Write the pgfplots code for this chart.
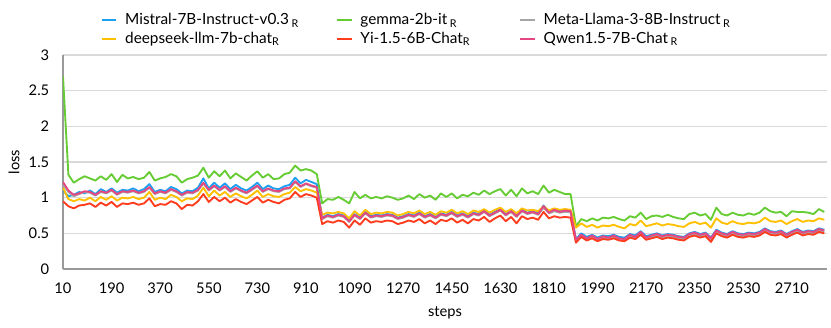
\documentclass[border=0pt]{standalone}
\usepackage{fontspec}
\setmainfont{Lato}
\usepackage{pgfplots}
\usepackage{pgfplotstable}
\pgfplotsset{compat=1.18}

\definecolor{cMis}{RGB}{30,160,240}
\definecolor{cGem}{RGB}{102,204,51}
\definecolor{cLla}{RGB}{165,165,165}
\definecolor{cDee}{RGB}{255,192,0}
\definecolor{cYi}{RGB}{255,60,30}
\definecolor{cQwe}{RGB}{230,70,130}

% loss per step (every 20 steps)
\pgfplotstableread{
step mis gem lla dee yi qwe
10 1.10 2.70 1.18 1.14 0.95 1.22
30 1.02 1.32 1.08 0.98 0.88 1.10
50 1.04 1.21 1.02 0.95 0.85 1.04
70 1.08 1.26 1.05 0.98 0.89 1.06
90 1.06 1.30 1.08 0.96 0.90 1.09
110 1.10 1.27 1.07 1.00 0.92 1.08
130 1.05 1.24 1.03 0.95 0.87 1.04
150 1.12 1.30 1.08 1.01 0.93 1.09
170 1.08 1.25 1.06 0.97 0.89 1.07
190 1.13 1.33 1.10 1.02 0.94 1.11
210 1.07 1.22 1.04 0.96 0.87 1.05
230 1.11 1.32 1.08 1.00 0.92 1.09
250 1.10 1.27 1.07 0.99 0.91 1.08
270 1.13 1.29 1.09 1.01 0.93 1.10
290 1.09 1.26 1.06 0.98 0.90 1.07
310 1.12 1.28 1.08 1.00 0.92 1.09
330 1.19 1.36 1.14 1.08 0.99 1.15
350 1.08 1.24 1.05 0.97 0.88 1.06
370 1.11 1.27 1.08 1.00 0.91 1.09
390 1.09 1.29 1.06 0.98 0.90 1.07
410 1.15 1.33 1.11 1.04 0.95 1.12
430 1.12 1.30 1.08 1.01 0.92 1.09
450 1.06 1.21 1.03 0.95 0.84 1.04
470 1.10 1.26 1.07 0.99 0.90 1.08
490 1.09 1.28 1.06 0.98 0.89 1.07
510 1.14 1.31 1.10 1.03 0.95 1.11
530 1.27 1.42 1.20 1.14 1.05 1.21
550 1.13 1.28 1.10 1.02 0.94 1.11
570 1.21 1.37 1.16 1.10 1.01 1.17
590 1.14 1.30 1.10 1.03 0.95 1.11
610 1.20 1.38 1.15 1.08 1.00 1.16
630 1.12 1.27 1.08 1.01 0.93 1.09
650 1.18 1.34 1.13 1.06 0.98 1.14
670 1.13 1.29 1.09 1.02 0.94 1.10
690 1.10 1.24 1.06 0.99 0.91 1.07
710 1.15 1.31 1.11 1.04 0.96 1.12
730 1.21 1.37 1.16 1.10 1.01 1.17
750 1.12 1.28 1.08 1.01 0.93 1.09
770 1.17 1.33 1.12 1.05 0.97 1.13
790 1.13 1.26 1.09 1.02 0.94 1.10
810 1.12 1.27 1.08 1.01 0.92 1.09
830 1.16 1.33 1.12 1.05 0.97 1.13
850 1.18 1.35 1.13 1.07 0.99 1.14
870 1.28 1.45 1.22 1.15 1.08 1.23
890 1.20 1.38 1.15 1.09 1.01 1.16
910 1.25 1.40 1.19 1.12 1.05 1.20
930 1.22 1.38 1.16 1.10 1.03 1.17
950 1.19 1.33 1.14 1.07 1.00 1.15
970 0.72 0.92 0.70 0.76 0.63 0.71
990 0.76 0.98 0.74 0.79 0.67 0.75
1010 0.74 0.97 0.72 0.78 0.65 0.73
1030 0.77 1.01 0.75 0.80 0.68 0.76
1050 0.75 0.97 0.73 0.78 0.66 0.74
1070 0.68 0.92 0.66 0.71 0.58 0.67
1090 0.77 1.08 0.75 0.81 0.68 0.76
1110 0.72 0.99 0.70 0.75 0.62 0.71
1130 0.80 1.04 0.78 0.83 0.71 0.79
1150 0.74 0.99 0.72 0.77 0.65 0.73
1170 0.76 1.01 0.74 0.79 0.67 0.75
1190 0.75 0.99 0.73 0.78 0.66 0.74
1210 0.77 1.02 0.75 0.80 0.68 0.76
1230 0.76 1.00 0.74 0.79 0.67 0.75
1250 0.72 0.97 0.70 0.75 0.63 0.71
1270 0.74 0.99 0.72 0.77 0.65 0.73
1290 0.77 1.03 0.75 0.80 0.68 0.76
1310 0.75 0.98 0.73 0.78 0.66 0.74
1330 0.79 1.05 0.77 0.82 0.70 0.78
1350 0.74 1.00 0.72 0.77 0.64 0.73
1370 0.77 1.03 0.75 0.80 0.68 0.76
1390 0.73 0.97 0.71 0.76 0.63 0.72
1410 0.78 1.06 0.76 0.81 0.69 0.77
1430 0.76 1.01 0.74 0.79 0.67 0.75
1450 0.80 1.06 0.78 0.83 0.71 0.79
1470 0.75 0.99 0.73 0.78 0.65 0.74
1490 0.78 1.04 0.76 0.81 0.69 0.77
1510 0.74 1.02 0.72 0.77 0.64 0.73
1530 0.79 1.07 0.77 0.82 0.70 0.78
1550 0.77 1.04 0.75 0.80 0.68 0.76
1570 0.82 1.10 0.80 0.84 0.73 0.81
1590 0.76 1.05 0.74 0.79 0.66 0.75
1610 0.80 1.09 0.78 0.83 0.71 0.79
1630 0.84 1.12 0.82 0.86 0.75 0.83
1650 0.77 1.03 0.75 0.80 0.67 0.76
1670 0.82 1.11 0.80 0.84 0.73 0.81
1690 0.75 1.02 0.73 0.78 0.64 0.74
1710 0.83 1.13 0.81 0.85 0.74 0.82
1730 0.79 1.06 0.77 0.82 0.70 0.78
1750 0.81 1.09 0.79 0.83 0.72 0.80
1770 0.78 1.05 0.76 0.81 0.69 0.77
1790 0.89 1.17 0.86 0.88 0.80 0.88
1810 0.80 1.07 0.78 0.82 0.71 0.79
1830 0.84 1.11 0.81 0.85 0.74 0.83
1850 0.81 1.08 0.79 0.83 0.72 0.80
1870 0.83 1.05 0.80 0.84 0.73 0.82
1890 0.82 1.05 0.80 0.83 0.72 0.81
1910 0.42 0.60 0.40 0.58 0.37 0.41
1930 0.50 0.70 0.47 0.64 0.45 0.48
1950 0.45 0.67 0.42 0.59 0.40 0.43
1970 0.48 0.71 0.45 0.62 0.43 0.47
1990 0.44 0.68 0.41 0.58 0.39 0.42
2010 0.47 0.72 0.44 0.61 0.42 0.46
2030 0.46 0.71 0.43 0.60 0.41 0.44
2050 0.48 0.73 0.45 0.62 0.43 0.47
2070 0.45 0.70 0.42 0.59 0.40 0.43
2090 0.44 0.68 0.41 0.57 0.39 0.42
2110 0.49 0.74 0.46 0.63 0.44 0.48
2130 0.47 0.72 0.44 0.61 0.42 0.45
2150 0.53 0.79 0.50 0.68 0.48 0.52
2170 0.46 0.70 0.43 0.60 0.41 0.44
2190 0.48 0.74 0.45 0.62 0.43 0.47
2210 0.50 0.75 0.47 0.64 0.45 0.49
2230 0.47 0.73 0.44 0.61 0.42 0.46
2250 0.49 0.76 0.46 0.63 0.44 0.48
2270 0.48 0.73 0.45 0.62 0.43 0.47
2290 0.46 0.71 0.43 0.60 0.41 0.45
2310 0.45 0.70 0.42 0.59 0.40 0.44
2330 0.50 0.77 0.47 0.64 0.45 0.49
2350 0.52 0.79 0.49 0.66 0.47 0.51
2370 0.49 0.75 0.46 0.63 0.44 0.48
2390 0.51 0.77 0.48 0.65 0.46 0.50
2410 0.44 0.69 0.41 0.58 0.38 0.43
2430 0.55 0.86 0.52 0.71 0.50 0.54
2450 0.51 0.77 0.48 0.65 0.46 0.50
2470 0.49 0.75 0.46 0.63 0.44 0.48
2490 0.53 0.79 0.50 0.67 0.48 0.52
2510 0.50 0.76 0.47 0.64 0.45 0.49
2530 0.49 0.75 0.46 0.63 0.44 0.48
2550 0.51 0.78 0.48 0.65 0.46 0.50
2570 0.50 0.76 0.47 0.64 0.45 0.49
2590 0.52 0.79 0.49 0.66 0.47 0.51
2610 0.57 0.86 0.54 0.72 0.52 0.56
2630 0.53 0.81 0.50 0.67 0.48 0.52
2650 0.52 0.79 0.49 0.66 0.47 0.51
2670 0.54 0.80 0.51 0.68 0.49 0.53
2690 0.49 0.74 0.46 0.63 0.44 0.48
2710 0.53 0.81 0.50 0.67 0.48 0.52
2730 0.56 0.80 0.53 0.70 0.51 0.55
2750 0.52 0.80 0.49 0.66 0.47 0.51
2770 0.54 0.79 0.51 0.68 0.49 0.53
2790 0.53 0.77 0.50 0.67 0.48 0.52
2810 0.57 0.84 0.54 0.71 0.52 0.56
2830 0.55 0.80 0.52 0.69 0.50 0.54
}\losstable

\begin{document}
\begin{tikzpicture}
\begin{axis}[
    name=ax,
    scale only axis,
    width=573pt, height=160.5pt,
    xmin=10, xmax=2840,
    ymin=0, ymax=3,
    xtick={10,190,...,2710},
    ytick={0,0.5,1,1.5,2,2.5,3},
    scaled x ticks=false,
    /pgf/number format/1000 sep={},
    /pgf/number format/assume math mode=true,
    major tick length=0pt,
    axis x line*=bottom,
    axis y line*=left,
    axis line style={draw=black!40, line width=0.8pt},
    ymajorgrids,
    major grid style={draw=black!15, line width=0.8pt},
    tick label style={font=\fontsize{11}{13}\selectfont},
    xticklabel style={yshift=-6.8pt},
    yticklabel style={xshift=-6.8pt},
    label style={font=\fontsize{11}{13}\selectfont},
    xlabel={steps},
    ylabel={loss},
    xlabel style={yshift=-3pt},
    legend columns=3,
    legend cell align=left,
    legend image code/.code={\draw[#1, line width=1.5pt] (0pt,0pt) -- (11pt,0pt); \path (15pt,0pt);},
    legend style={draw=none, fill=none, at={(0,1)}, anchor=south west,
      xshift=28pt, yshift=5pt, inner sep=0pt, column sep=0pt, row sep=0pt,
      nodes={inner sep=2pt}, font=\fontsize{11.5}{13.5}\selectfont},
    every axis plot/.append style={line width=1.4pt, line join=round},
  ]
  \addplot[cMis] table[x=step, y=mis]{\losstable};
  \addlegendentry{\makebox[156pt][l]{Mistral-7B-Instruct-v0.3\hspace{2pt}\textsubscript{R}}}
  \addplot[cGem] table[x=step, y=gem]{\losstable};
  \addlegendentry{\makebox[117pt][l]{gemma-2b-it\hspace{2pt}\textsubscript{R}}}
  \addplot[cLla] table[x=step, y=lla]{\losstable};
  \addlegendentry{Meta-Llama-3-8B-Instruct\hspace{2pt}\textsubscript{R}}
  \addplot[cDee] table[x=step, y=dee]{\losstable};
  \addlegendentry{\makebox[156pt][l]{deepseek-llm-7b-chat\textsubscript{R}}}
  \addplot[cYi] table[x=step, y=yi]{\losstable};
  \addlegendentry{\makebox[117pt][l]{Yi-1.5-6B-Chat\textsubscript{R}}}
  \addplot[cQwe] table[x=step, y=qwe]{\losstable};
  \addlegendentry{Qwen1.5-7B-Chat\hspace{2pt}\textsubscript{R}}
\end{axis}
\path ([shift={(-47.25pt,-44.25pt)}]ax.south west) rectangle ([shift={(3pt,41.25pt)}]ax.north east);
\end{tikzpicture}
\end{document}
